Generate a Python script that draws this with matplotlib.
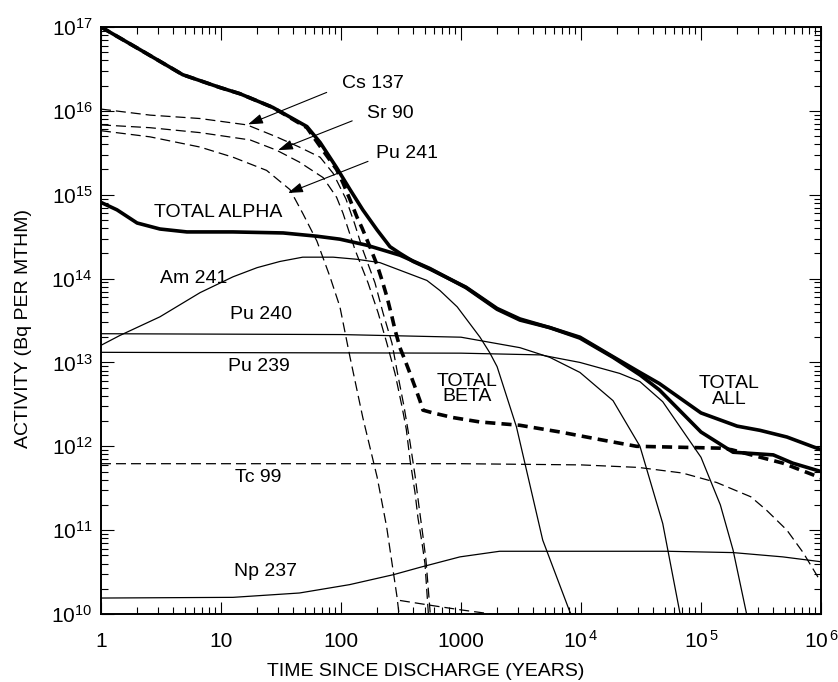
import matplotlib
matplotlib.use('Agg')
import matplotlib.pyplot as plt
from matplotlib.ticker import NullFormatter

plt.rcParams['font.family'] = ['Liberation Sans', 'DejaVu Sans']
plt.rcParams['mathtext.fontset'] = 'custom'
plt.rcParams['mathtext.rm'] = 'Liberation Sans'
plt.rcParams['mathtext.it'] = 'Liberation Sans:italic'
plt.rcParams['mathtext.bf'] = 'Liberation Sans:bold'

# Activity (Bq per MTHM) against time since discharge (years)
total_all_t = [1, 2.1, 4.8, 9.8, 14.4, 27, 52, 67, 92, 119, 152, 200, 256, 310, 400, 550,
               1100, 2000, 3100, 5500, 9800, 1.85e4, 3.1e4, 4.5e4, 1e5, 2e5, 3.1e5, 5.2e5, 1e6]
total_all = [1.0e17, 5.4e16, 2.7e16, 1.9e16, 1.6e16, 1.1e16, 6.5e15, 4.2e15, 2.1e15, 1.15e15,
             6.6e14, 3.8e14, 2.4e14, 2.0e14, 1.6e14, 1.3e14,
             7.9e13, 4.4e13, 3.3e13, 2.6e13, 2.0e13, 1.17e13, 7.6e12, 5.6e12, 2.5e12, 1.74e12,
             1.55e12, 1.29e12, 9.1e11]

total_alpha_t = [1, 1.36, 2.0, 3.1, 5.2, 12.6, 33, 63, 98, 164, 310, 550, 1100, 2000, 3100,
                 5500, 9800, 1.85e4, 3.1e4, 4.5e4, 1e5, 1.85e5, 4e5, 5.8e5, 1e6]
total_alpha = [8.1e14, 6.6e14, 4.6e14, 3.9e14, 3.6e14, 3.6e14, 3.5e14, 3.2e14, 2.95e14, 2.5e14,
               1.9e14, 1.32e14, 7.8e13, 4.3e13, 3.2e13, 2.6e13, 1.95e13, 1.15e13, 7.1e12,
               4.7e12, 1.48e12, 8.5e11, 7.9e11, 6.3e11, 5.0e11]

total_beta_t = [1, 2.1, 4.8, 9.8, 14.4, 27, 52, 69.5, 92, 104, 119, 136, 150, 174, 200, 220,
                242, 266, 282, 310, 341, 376, 414, 455, 482, 585, 858, 1440, 3100, 6700,
                1.45e4, 2.9e4, 1.45e5, 1.8e5, 4.8e5, 1e6]
total_beta = [1.0e17, 5.4e16, 2.7e16, 1.9e16, 1.6e16, 1.1e16, 6.3e15, 3.5e15, 2.0e15, 1.38e15,
              8.7e14, 5.4e14, 4.0e14, 2.4e14, 1.45e14, 9.5e13, 6.0e13, 3.5e13, 2.45e13,
              1.5e13, 1.07e13, 7.4e12, 5.1e12, 3.5e12, 2.7e12, 2.5e12, 2.2e12, 1.95e12,
              1.78e12, 1.48e12, 1.2e12, 1.0e12, 9.5e11, 9.1e11, 6.3e11, 4.2e11]

cs137_t = [1, 2.56, 6.7, 16.5, 29, 45, 67, 86, 110, 130, 152, 192, 224, 266, 296, 335, 376,
           414, 445, 480, 510, 555, 580]
cs137 = [1.05e16, 8.9e15, 8.1e15, 6.8e15, 4.9e15, 3.7e15, 2.8e15, 1.8e15, 8.9e14, 4.5e14,
         2.2e14, 8.9e13, 3.9e13, 1.7e13, 7.4e12, 3.0e12, 1.12e12, 4.5e11, 2.0e11, 8.9e10,
         4.5e10, 1.0e10, 6e9]

sr90_t = [1, 2.56, 6.7, 17.5, 29, 45, 71, 92, 104, 131, 168, 204, 241, 282, 322, 350, 376,
          414, 438, 473, 501, 535, 560]
sr90 = [6.8e15, 6.3e15, 5.5e15, 4.5e15, 3.4e15, 2.45e15, 1.6e15, 9.3e14, 6.0e14, 2.2e14,
        8.9e13, 3.9e13, 1.7e13, 7.4e12, 3.0e12, 1.6e12, 6.9e11, 2.8e11, 1.4e11, 7.1e10,
        4.0e10, 1.0e10, 6e9]

pu241_t = [1, 2.56, 6.7, 12.6, 24, 37.6, 48, 63, 81, 98, 119, 152, 200, 240, 293, 310]
pu241 = [5.8e15, 4.9e15, 3.7e15, 2.8e15, 1.95e15, 1.15e15, 6.0e14, 2.8e14, 1.05e14, 4.6e13,
         1.15e13, 2.2e12, 4.3e11, 1.1e11, 1.6e10, 8e9]

am241_t = [1, 1.44, 3.1, 6.7, 12.6, 20, 31, 48, 86, 135, 211, 520, 668, 930, 1440, 1740,
           2000, 2900, 4800, 8000, 8500]
am241 = [1.6e13, 2.1e13, 3.5e13, 6.8e13, 1.05e14, 1.35e14, 1.6e14, 1.8e14, 1.8e14, 1.7e14,
         1.55e14, 9.5e13, 7.2e13, 4.6e13, 2.0e13, 1.3e13, 8.9e12, 1.7e12, 7.6e10, 1.1e10, 9e9]

pu240_t = [1, 100, 1000, 3100, 5500, 9800, 1.85e4, 3.1e4, 4.8e4, 6.7e4, 7e4]
pu240 = [2.2e13, 2.15e13, 2.0e13, 1.5e13, 1.15e13, 7.6e12, 3.5e12, 1.0e12, 1.2e11, 1.0e10, 8e9]

pu239_t = [1, 1000, 4600, 9800, 2.1e4, 3.1e4, 4.8e4, 6.7e4, 1e5, 1.45e5, 1.85e5, 2.4e5, 2.5e5]
pu239 = [1.32e13, 1.29e13, 1.23e13, 1.0e13, 7.4e12, 5.9e12, 3.4e12, 1.7e12, 7.4e11, 2.0e11,
         5.8e10, 1.0e10, 8e9]

tc99_t = [1, 1000, 1e4, 3e4, 7e4, 1.35e5, 2.6e5, 3.5e5, 5.2e5, 7.1e5, 1e6]
tc99 = [6.2e11, 6.2e11, 6.0e11, 5.6e11, 4.8e11, 3.7e11, 2.5e11, 1.74e11, 1.0e11, 5.4e10, 2.4e10]

np237_t = [1, 12.6, 45, 118, 275, 455, 980, 2100, 7600, 5.2e4, 1.85e5, 4.8e5, 1e6]
np237 = [1.55e10, 1.58e10, 1.78e10, 2.24e10, 2.95e10, 3.6e10, 4.8e10, 5.6e10, 5.6e10, 5.6e10,
         5.4e10, 4.8e10, 4.2e10]

minor_t = [310, 600, 1000, 1800]
minor = [1.45e10, 1.25e10, 1.12e10, 1.0e10]

x_ticks = [1, 10, 100, 1000, 1e4, 1e5, 1e6]
x_labels = ['1', '10', '100', '1000', r'$\mathregular{10^{\,4}}$',
            r'$\mathregular{10^{\,5}}$', r'$\mathregular{10^{\,6}}$']
y_ticks = [1e10, 1e11, 1e12, 1e13, 1e14, 1e15, 1e16, 1e17]
y_labels = [r'$\mathregular{10^{%d}}$' % e for e in range(10, 18)]

fig = plt.figure(figsize=(8.38, 6.82), dpi=100)
ax = fig.add_axes([0.1205, 0.0997, 0.8592, 0.8607])

thin = dict(color='black', lw=0.9)
thin_dash = dict(color='black', lw=0.9, dashes=(8, 4))
thick = dict(color='black', lw=2.6)
thick_dash = dict(color='black', lw=2.6, dashes=(2.8, 1.7))

ax.plot(cs137_t, cs137, **thin_dash)
ax.plot(sr90_t, sr90, **thin_dash)
ax.plot(pu241_t, pu241, **thin_dash)
ax.plot(tc99_t, tc99, **thin_dash)
ax.plot(minor_t, minor, **thin_dash)
ax.plot(am241_t, am241, **thin)
ax.plot(pu240_t, pu240, **thin)
ax.plot(pu239_t, pu239, **thin)
ax.plot(np237_t, np237, **thin)
ax.plot(total_all_t, total_all, **thick)
ax.plot(total_alpha_t, total_alpha, **thick)
ax.plot(total_beta_t, total_beta, **thick_dash)

ax.set_xscale('log')
ax.set_yscale('log')
ax.set_xlim(1, 1e6)
ax.set_ylim(1e10, 1e17)

ax.set_xticks(x_ticks)
ax.set_xticklabels(x_labels, va='baseline')
ax.set_yticks(y_ticks)
ax.set_yticklabels(y_labels)
ax.xaxis.set_minor_formatter(NullFormatter())
ax.yaxis.set_minor_formatter(NullFormatter())
ax.tick_params(which='both', direction='in', top=True, right=True, width=0.8, labelsize=15)
ax.tick_params(which='major', length=9)
ax.tick_params(which='minor', length=5)
ax.tick_params(axis='x', pad=24)
ax.tick_params(axis='y', pad=6)
for s in ax.spines.values():
    s.set_linewidth(1.4)

ax.set_xlabel('TIME SINCE DISCHARGE (YEARS)', fontsize=14)
ax.xaxis.set_label_coords(0.451, -0.0835)
ax.set_ylabel('ACTIVITY (Bq PER MTHM)', fontsize=14)
ax.yaxis.set_label_coords(-0.096, 0.487)

# curve labels
txt = dict(fontsize=14, ha='center', va='center')
ax.text(185, 2.1e16, 'Cs 137', **txt)
ax.text(256, 9.3e15, 'Sr 90', **txt)
ax.text(355, 3.1e15, 'Pu 241', **txt)
ax.text(9.4, 6.2e14, 'TOTAL ALPHA', **txt)
ax.text(5.96, 1.0e14, 'Am 241', **txt)
ax.text(21.5, 3.7e13, 'Pu 240', **txt)
ax.text(20.7, 8.9e12, 'Pu 239', **txt)
ax.text(20.3, 4.3e11, 'Tc 99', **txt)
ax.text(23.3, 3.2e10, 'Np 237', **txt)
ax.text(1120, 4.8e12, 'TOTAL\nBETA', linespacing=0.85, **txt)
ax.text(1.71e5, 4.5e12, 'TOTAL\nALL', linespacing=0.85, **txt)

arrow = dict(arrowstyle='-|>,head_length=0.9,head_width=0.3', color='black', lw=0.8,
             shrinkA=0, shrinkB=0)
ax.annotate('', xy=(16.8, 6.9e15), xytext=(76, 1.66e16), arrowprops=arrow)
ax.annotate('', xy=(29.9, 3.4e15), xytext=(124, 7.6e15), arrowprops=arrow)
ax.annotate('', xy=(36.2, 1.05e15), xytext=(168, 2.5e15), arrowprops=arrow)

fig.savefig('out.png', dpi=100)
